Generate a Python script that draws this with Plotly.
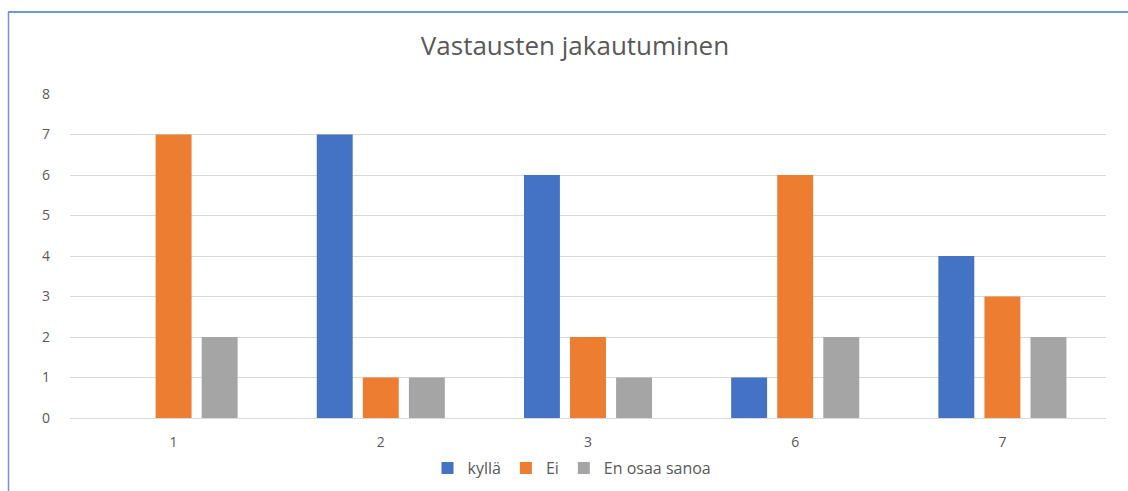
import plotly.graph_objects as go

categories = ["1", "2", "3", "6", "7"]
kylla = [0, 7, 6, 1, 4]
ei = [7, 1, 2, 6, 3]
en_osaa = [2, 1, 1, 2, 2]
series_names = ["kyllä", "Ei", "En osaa sanoa"]
colors = ["#4472C4", "#ED7D31", "#A5A5A5"]

W, H = 1128, 491
L, R, T, B = 70, 22, 94, 73
pw, ph = W - L - R, H - T - B

def px(x):
    return (x - L) / pw

def py(y):
    return (H - B - y) / ph

fig = go.Figure()
for name, vals, c in zip(series_names, [kylla, ei, en_osaa], colors):
    fig.add_trace(go.Bar(x=categories, y=vals, name=name, marker=dict(color=c, line=dict(width=0))))

fig.update_layout(
    width=W, height=H,
    margin=dict(l=L, r=R, t=T, b=B, autoexpand=False),
    paper_bgcolor="white", plot_bgcolor="white",
    font=dict(family="Segoe UI, Open Sans, sans-serif", color="#595959", size=14),
    barmode="group", bargap=0.333, bargroupgap=0.22,
    title=dict(text="Vastausten jakautuminen", x=px(575), xref="paper", xanchor="center",
               y=1 - 46 / H, yanchor="middle", font=dict(size=26, color="#595959")),
    xaxis=dict(type="category", showgrid=False, showline=False, zeroline=False,
               ticks="", ticklabelstandoff=14, tickfont=dict(size=14, color="#595959")),
    yaxis=dict(range=[0, 8], dtick=1, showgrid=True, gridcolor="#D9D9D9", gridwidth=1,
               zeroline=True, zerolinecolor="#D9D9D9", zerolinewidth=1, showline=False,
               ticks="", ticklabelstandoff=19, tickfont=dict(size=14, color="#595959")),
    legend=dict(orientation="h", x=px(572), xanchor="center", y=py(468), yanchor="middle",
                font=dict(size=16, color="#595959"), itemwidth=30, bgcolor="rgba(0,0,0,0)"),
    shapes=[
        dict(type="line", xref="paper", yref="paper", x0=px(8), x1=px(1130), y0=py(12), y1=py(12),
             line=dict(color="#6F98DC", width=2)),
        dict(type="line", xref="paper", yref="paper", x0=px(8.5), x1=px(8.5), y0=py(12), y1=py(495),
             line=dict(color="#6F98DC", width=1.5)),
    ],
)

fig.write_html("out.html", config={"displayModeBar": False},
               post_script="document.body.style.margin='0';")
